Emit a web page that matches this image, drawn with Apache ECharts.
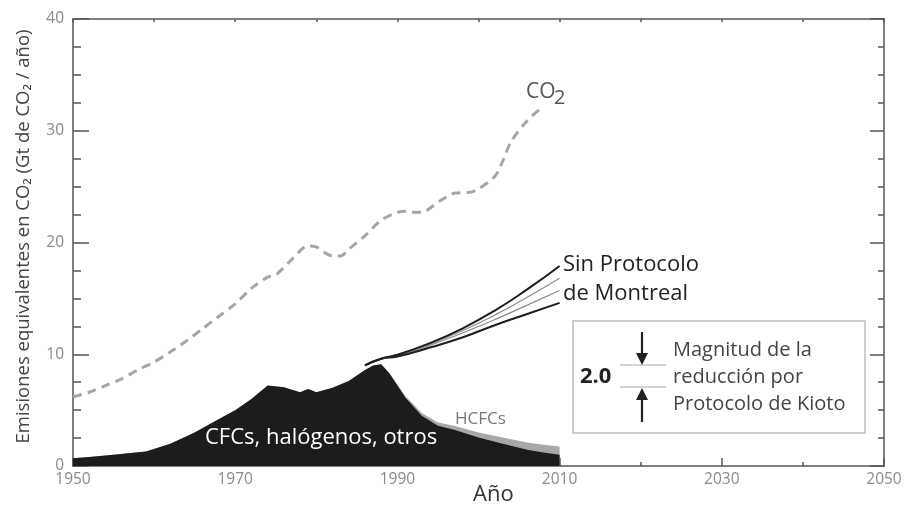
<!DOCTYPE html>
<html>
<head>
<meta charset="utf-8">
<script src="https://cdn.jsdelivr.net/npm/echarts@6/dist/echarts.min.js"></script>
<style>
html,body{margin:0;padding:0;background:#fff;}
#chart{width:906px;height:509px;}
</style>
</head>
<body>
<div id="chart"></div>
<script>
// ---- data ----
var areaYears = [1950,1952,1955,1959,1962,1965,1968,1970,1972,1974,1976,1978,1979,1980,1982,1984,1986,1987,1988,1989,1990,1991,1992,1993,1995,1997,2000,2003,2006,2008,2010];
var cfcValues = [0.7,0.8,1.0,1.3,2.0,3.0,4.2,5.0,6.0,7.2,7.05,6.6,6.9,6.6,7.0,7.6,8.6,9.0,9.1,8.3,7.2,6.1,5.3,4.5,3.6,3.25,2.55,2.0,1.45,1.2,1.0];
var hcfcValues = [0,0,0,0,0,0,0,0,0,0,0,0,0,0,0,0,0,0,0,0.05,0.1,0.15,0.2,0.25,0.3,0.35,0.45,0.55,0.65,0.7,0.75];

var co2Years = [1950,1952,1954,1956,1958,1960,1962,1964,1966,1968,1970,1972,1974,1975,1977,1979,1980,1981,1982,1983,1984,1986,1988,1990,1991,1992,1993,1995,1997,1999,2000,2002,2003,2004,2006,2008];
var co2Values = [6.2,6.6,7.2,7.8,8.6,9.3,10.2,11.2,12.3,13.4,14.5,15.9,16.9,17.1,18.5,19.7,19.6,19.1,18.8,18.8,19.4,20.6,22.0,22.7,22.8,22.7,22.7,23.6,24.4,24.5,24.8,25.9,27.3,29.0,30.9,32.2];

var noMPYears = [1986,1988,1990,1994,1998,2002,2006,2010];
var noMPHigh  = [9.0,9.6,9.95,11.0,12.3,13.9,15.8,17.9];
var noMPMid1  = [9.0,9.6,9.9,10.9,12.1,13.5,15.1,16.8];
var noMPMid2  = [9.0,9.6,9.85,10.8,11.9,13.1,14.4,15.7];
var noMPLow   = [9.0,9.6,9.8,10.6,11.5,12.6,13.6,14.6];

var xLabelYears = [1950,1970,1990,2010,2030,2050];

function pairs(xs, ys){ return xs.map(function(x,i){ return [x, ys[i]]; }); }
var hcfcTop = areaYears.map(function(x,i){ return [x, cfcValues[i] + hcfcValues[i]]; });

var FONT = '"Open Sans", "Noto Sans", sans-serif';
var AX = '#555';

var chart = echarts.init(document.getElementById('chart'));

function lineSeries(data, color, width){
  return {type:'line', data:data, smooth:true, showSymbol:false, symbol:'none', silent:true,
    lineStyle:{color:color, width:width}, z:4};
}

var option = {
  backgroundColor:'#fff',
  animation:false,
  grid:{left:73, right:22, top:19, bottom:43},
  xAxis:[
    {type:'value', position:'bottom', min:1950, max:2050, interval:10,
      axisLine:{show:true, onZero:false, lineStyle:{color:AX, width:1.5}},
      axisTick:{show:true, inside:true, length:4, lineStyle:{color:AX, width:1.5}},
      axisLabel:{show:true, color:'#8a8a8a', fontSize:15.5, fontFamily:FONT, margin:6,
        customValues:xLabelYears, formatter:function(v){ return String(v); }},
      splitLine:{show:false}},
    {type:'value', position:'bottom', min:1950, max:2050, gridIndex:0,
      axisLine:{show:false},
      axisTick:{show:true, inside:true, length:8, customValues:xLabelYears, lineStyle:{color:AX, width:1.5}},
      axisLabel:{show:false}, splitLine:{show:false}},
    {type:'value', position:'top', min:1950, max:2050, interval:10,
      axisLine:{show:true, onZero:false, lineStyle:{color:AX, width:1.5}},
      axisTick:{show:true, inside:true, length:3, lineStyle:{color:AX, width:1.5}},
      axisLabel:{show:false}, splitLine:{show:false}}
  ],
  yAxis:[
    {type:'value', position:'left', min:0, max:40, interval:10,
      name:'Emisiones equivalentes en CO₂ (Gt de CO₂ / año)', nameLocation:'middle', nameRotate:90, nameGap:40,
      nameTextStyle:{color:'#444', fontSize:18.5, fontFamily:FONT, padding:[0,0,0,12]},
      axisLine:{show:true, onZero:false, lineStyle:{color:AX, width:1.5}},
      axisTick:{show:true, inside:true, length:16, lineStyle:{color:AX, width:1.5}},
      minorTick:{show:true, splitNumber:4, length:8, lineStyle:{color:AX, width:1.5}},
      axisLabel:{show:true, color:'#8a8a8a', fontSize:15.5, fontFamily:FONT, margin:9},
      splitLine:{show:false}, minorSplitLine:{show:false}},
    {type:'value', position:'right', min:0, max:40, interval:10,
      axisLine:{show:true, onZero:false, lineStyle:{color:AX, width:1.5}},
      axisTick:{show:true, inside:true, length:14, lineStyle:{color:AX, width:1.5}},
      minorTick:{show:true, splitNumber:4, length:6, lineStyle:{color:AX, width:1.5}},
      axisLabel:{show:false}, splitLine:{show:false}}
  ],
  series:[
    {type:'line', data:hcfcTop, showSymbol:false, symbol:'none', silent:true,
      lineStyle:{width:0}, areaStyle:{color:'#a8a8a8', opacity:1}, z:2},
    {type:'line', data:pairs(areaYears, cfcValues), showSymbol:false, symbol:'none', silent:true,
      lineStyle:{width:0}, areaStyle:{color:'#1c1c1c', opacity:1}, z:3},
    {type:'line', data:pairs(co2Years, co2Values), smooth:0.3, showSymbol:false, symbol:'none', silent:true,
      lineStyle:{color:'#a6a6a6', width:3, type:[9,6]}, z:4},
    lineSeries(pairs(noMPYears, noMPMid1), '#8a8a8a', 1.2),
    lineSeries(pairs(noMPYears, noMPMid2), '#8a8a8a', 1.2),
    lineSeries(pairs(noMPYears, noMPHigh), '#1e1e1e', 2),
    lineSeries(pairs(noMPYears, noMPLow), '#1e1e1e', 2)
  ],
  graphic:[
    {type:'text', left:526, top:82, style:{text:'CO', fill:'#555', font:'21px '+FONT}},
    {type:'text', left:554, top:88, style:{text:'2', fill:'#555', font:'20px '+FONT}},
    {type:'text', left:563, top:254, style:{text:'Sin Protocolo', fill:'#222', font:'22px '+FONT}},
    {type:'text', left:563, top:283, style:{text:'de Montreal', fill:'#222', font:'22px '+FONT}},
    {type:'text', left:455, top:411, style:{text:'HCFCs', fill:'#777', font:'17px '+FONT}},
    {type:'text', left:205, top:427, z:10, style:{text:'CFCs, halógenos, otros', fill:'#fff', font:'22px '+FONT}},
    {type:'text', left:473, top:484, style:{text:'Año', fill:'#333', font:'22px '+FONT}},
    {type:'rect', shape:{x:573, y:321, width:292, height:112}, style:{fill:'#fff', stroke:'#bdbdbd', lineWidth:1.5}, z:5},
    {type:'text', left:580, top:366, z:6, style:{text:'2.0', fill:'#222', font:'bold 22px '+FONT}},
    {type:'line', shape:{x1:620, y1:365, x2:666, y2:365}, style:{stroke:'#aaa', lineWidth:1.2}, z:6},
    {type:'line', shape:{x1:620, y1:387, x2:666, y2:387}, style:{stroke:'#aaa', lineWidth:1.2}, z:6},
    {type:'line', shape:{x1:642, y1:332, x2:642, y2:357}, style:{stroke:'#222', lineWidth:2.2}, z:6},
    {type:'polygon', shape:{points:[[636,353],[648,353],[642,365]]}, style:{fill:'#222'}, z:6},
    {type:'line', shape:{x1:642, y1:396, x2:642, y2:422}, style:{stroke:'#222', lineWidth:2.2}, z:6},
    {type:'polygon', shape:{points:[[636,400],[648,400],[642,388]]}, style:{fill:'#222'}, z:6},
    {type:'text', left:673, top:340, z:6, style:{text:'Magnitud de la', fill:'#444', font:'20px '+FONT}},
    {type:'text', left:673, top:367, z:6, style:{text:'reducción por', fill:'#444', font:'20px '+FONT}},
    {type:'text', left:673, top:394, z:6, style:{text:'Protocolo de Kioto', fill:'#444', font:'20px '+FONT}}
  ]
};
chart.setOption(option);
</script>
</body>
</html>
